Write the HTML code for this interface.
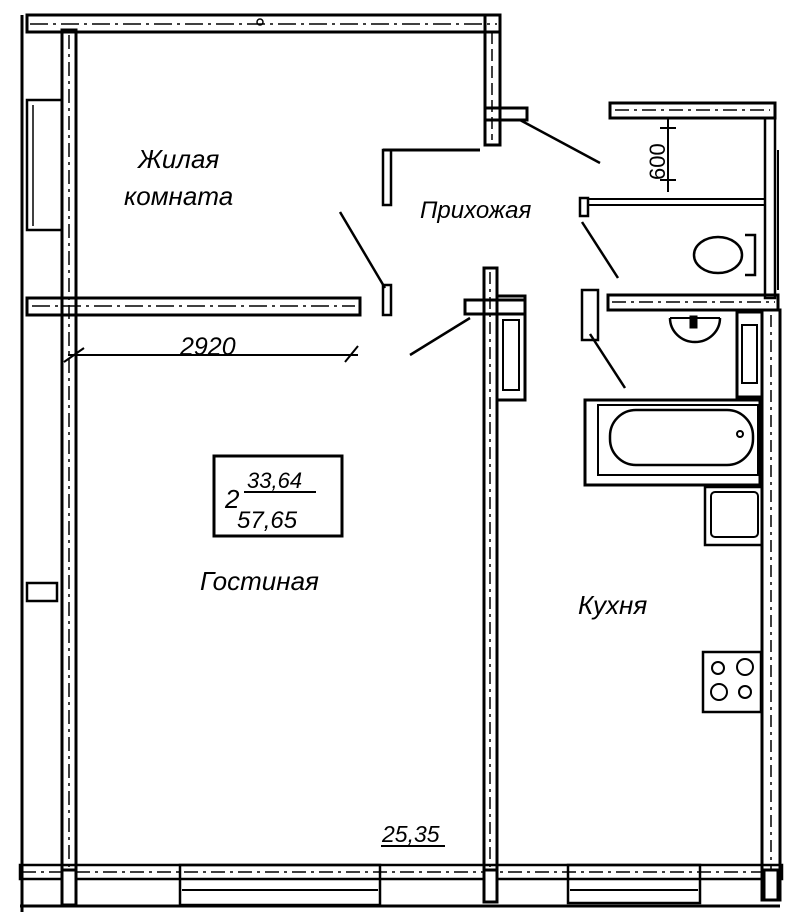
<!DOCTYPE html>
<html><head><meta charset="utf-8"><style>
html,body{margin:0;padding:0;background:#fff;}
svg{display:block}
text{font-family:"Liberation Sans","DejaVu Sans",sans-serif;font-style:italic;fill:#000}
</style></head><body>
<svg width="800" height="918" viewBox="0 0 800 918" xmlns="http://www.w3.org/2000/svg">
<g fill="none" stroke="#000" stroke-width="3">
<!-- outer thin left line -->
<line x1="22" y1="15" x2="22" y2="912" stroke-width="3"/>
<!-- left wall column -->
<rect x="62" y="30" width="14" height="868"/>
<line x1="69" y1="35" x2="69" y2="895" stroke-width="1.5" stroke-dasharray="14 5 3 5"/>
<!-- left window bay -->
<rect x="27" y="100" width="35" height="130" stroke-width="2.5"/>
<line x1="33" y1="105" x2="33" y2="226" stroke-width="1.5"/>
<!-- small left thing -->
<rect x="27" y="583" width="30" height="18" stroke-width="2.5"/>
<!-- top wall -->
<rect x="27" y="15" width="473" height="17"/>
<line x1="30" y1="24" x2="497" y2="24" stroke-width="1.5" stroke-dasharray="18 5 3 5"/>
<circle cx="260" cy="22" r="3" stroke-width="1.5"/>
<!-- top right wall descending -->
<rect x="485" y="15" width="15" height="130"/>
<line x1="492" y1="32" x2="492" y2="140" stroke-width="1.5" stroke-dasharray="12 5"/>
<rect x="485" y="108" width="42" height="12"/>
<!-- stub near door -->
<path d="M383 150 H480" />
<rect x="383" y="150" width="8" height="55" stroke-width="2.5"/>
<rect x="383" y="285" width="8" height="30" stroke-width="2.5"/>
<!-- living/bedroom partition -->
<rect x="27" y="298" width="333" height="17"/>
<line x1="32" y1="306" x2="355" y2="306" stroke-width="1.5" stroke-dasharray="18 5 3 5"/>
<!-- middle wall -->
<rect x="484" y="268" width="13" height="630"/>
<line x1="490" y1="272" x2="490" y2="895" stroke-width="1.5" stroke-dasharray="12 5 3 5"/>
<rect x="465" y="300" width="60" height="14"/>
<rect x="497" y="296" width="28" height="104" stroke-width="3"/>
<rect x="503" y="320" width="16" height="70" stroke-width="2"/>
<!-- bathroom top wall -->
<rect x="610" y="103" width="165" height="15"/>
<line x1="615" y1="110" x2="770" y2="110" stroke-width="1.5" stroke-dasharray="14 5 3 5"/>
<!-- toilet partition -->
<rect x="580" y="198" width="8" height="18" stroke-width="2.5"/>
<line x1="588" y1="199" x2="765" y2="199" stroke-width="2"/>
<line x1="588" y1="205" x2="765" y2="205" stroke-width="2"/>
<!-- inner vertical wall of toilet -->
<rect x="765" y="118" width="10" height="180" stroke-width="2.5"/>
<line x1="778" y1="150" x2="778" y2="290" stroke-width="2"/>
<!-- bath/hall partition -->
<rect x="582" y="290" width="16" height="50" stroke-width="2.5"/>
<rect x="608" y="295" width="170" height="15"/>
<line x1="612" y1="302" x2="775" y2="302" stroke-width="1.5" stroke-dasharray="14 5 3 5"/>
<!-- right wall -->
<rect x="762" y="310" width="18" height="590"/>
<line x1="771" y1="315" x2="771" y2="895" stroke-width="1.5" stroke-dasharray="12 5 3 5"/>
<!-- bath tank -->
<rect x="737" y="312" width="25" height="85" stroke-width="3"/>
<rect x="742" y="325" width="15" height="58" stroke-width="2"/>
<!-- bathtub -->
<rect x="585" y="400" width="175" height="85" stroke-width="3"/>
<rect x="598" y="405" width="160" height="70" stroke-width="2"/>
<rect x="610" y="410" width="143" height="55" rx="26" stroke-width="2.5"/>
<circle cx="740" cy="434" r="3" stroke-width="2"/>
<!-- sink -->
<path d="M670 318 A25 24 0 0 0 720 318" stroke-width="2.5"/>
<line x1="670" y1="318" x2="720" y2="318" stroke-width="2"/>
<rect x="691" y="317" width="5" height="10" fill="#000"/>
<!-- toilet -->
<ellipse cx="718" cy="255" rx="24" ry="18" stroke-width="2.5"/>
<path d="M745 235 H755 V275 H745" stroke-width="2.5"/>
<!-- fridge -->
<rect x="705" y="487" width="57" height="58" stroke-width="2.5"/>
<rect x="711" y="492" width="47" height="45" rx="4" stroke-width="2"/>
<!-- stove -->
<rect x="703" y="652" width="58" height="60" stroke-width="2.5"/>
<circle cx="718" cy="668" r="6" stroke-width="2"/>
<circle cx="745" cy="667" r="8" stroke-width="2"/>
<circle cx="719" cy="692" r="8" stroke-width="2"/>
<circle cx="745" cy="692" r="6" stroke-width="2"/>
<!-- bottom wall -->
<rect x="20" y="865" width="762" height="14" stroke-width="2.5"/>
<line x1="22" y1="872" x2="780" y2="872" stroke-width="1.5" stroke-dasharray="14 5 3 5"/>
<line x1="20" y1="906" x2="780" y2="906" stroke-width="3"/>
<!-- windows bottom -->
<rect x="180" y="865" width="200" height="40" stroke-width="2.5"/>
<line x1="182" y1="890" x2="378" y2="890" stroke-width="2"/>
<rect x="568" y="865" width="132" height="38" stroke-width="2.5"/>
<line x1="570" y1="890" x2="698" y2="890" stroke-width="2"/>
<!-- column caps -->
<rect x="62" y="870" width="14" height="35" fill="#fff"/>
<rect x="484" y="870" width="13" height="32" fill="#fff"/>
<rect x="764" y="870" width="14" height="30" fill="#fff"/>
<!-- door swing lines -->
<line x1="340" y1="212" x2="385" y2="288" stroke-width="2.5"/>
<line x1="520" y1="120" x2="600" y2="163" stroke-width="2.5"/>
<line x1="582" y1="222" x2="618" y2="278" stroke-width="2.5"/>
<line x1="590" y1="334" x2="625" y2="388" stroke-width="2.5"/>
<line x1="410" y1="355" x2="470" y2="318" stroke-width="2.5"/>
<!-- dimension 2920 -->
<line x1="68" y1="355" x2="358" y2="355" stroke-width="2"/>
<line x1="64" y1="362" x2="84" y2="348" stroke-width="2"/>
<line x1="345" y1="362" x2="358" y2="346" stroke-width="2"/>
<!-- dimension 600 -->
<line x1="668" y1="118" x2="668" y2="192" stroke-width="2"/>
<line x1="660" y1="128" x2="676" y2="128" stroke-width="2"/>
<line x1="660" y1="180" x2="676" y2="180" stroke-width="2"/>
<!-- area box -->
<rect x="214" y="456" width="128" height="80" stroke-width="3"/>
<line x1="244" y1="492" x2="316" y2="492" stroke-width="2"/>
<line x1="381" y1="846" x2="445" y2="846" stroke-width="2"/>
</g>
<text x="138" y="168" font-size="26">Жилая</text>
<text x="124" y="205" font-size="26">комната</text>
<text x="420" y="218" font-size="24">Прихожая</text>
<text x="180" y="355" font-size="25">2920</text>
<text x="665" y="180" font-size="22" transform="rotate(-90 665 180)" style="font-style:normal">600</text>
<text x="247" y="488" font-size="22">33,64</text>
<text x="225" y="508" font-size="26">2</text>
<text x="237" y="528" font-size="24">57,65</text>
<text x="200" y="590" font-size="26">Гостиная</text>
<text x="578" y="614" font-size="26">Кухня</text>
<text x="382" y="842" font-size="23">25,35</text>
</svg>
</body></html>
